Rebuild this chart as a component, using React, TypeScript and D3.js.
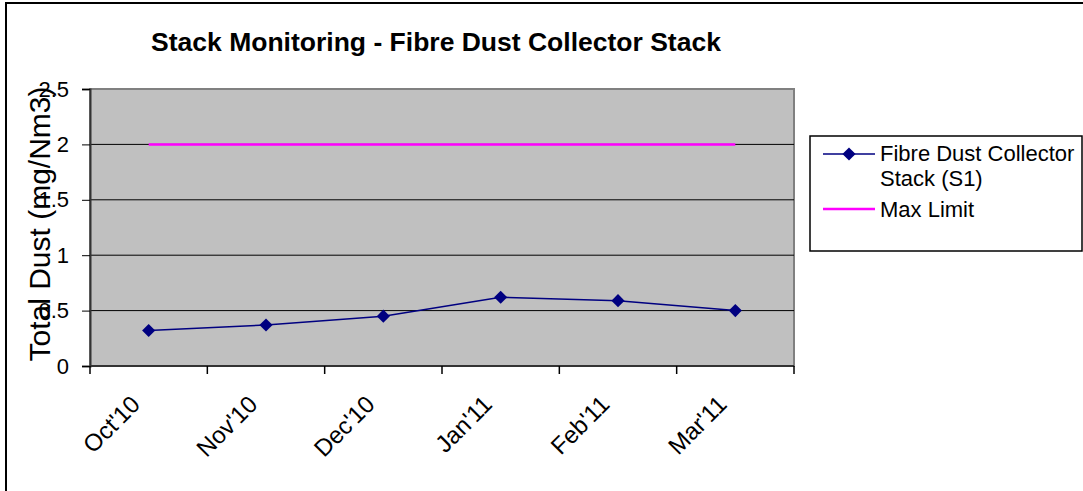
import React, { useEffect, useRef } from "react";
import * as d3 from "d3";

const months = ["Oct'10", "Nov'10", "Dec'10", "Jan'11", "Feb'11", "Mar'11"];
const dustValues = [0.32, 0.37, 0.45, 0.62, 0.59, 0.5];
const maxLimit = [2, 2, 2, 2, 2, 2];
const yTicks = [0, 0.5, 1, 1.5, 2, 2.5];

const W = 1083;
const H = 491;
const FONT = "Arial, 'Liberation Sans', sans-serif";

export default function App() {
  const ref = useRef<SVGSVGElement>(null);

  useEffect(() => {
    const svg = d3.select(ref.current);
    svg.selectAll("*").remove();

    const margin = { top: 89, right: 289, bottom: 125, left: 90 };
    const x = d3.scaleBand().domain(months).range([margin.left, W - margin.right]);
    const y = d3.scaleLinear().domain([0, 2.5]).range([H - margin.bottom, margin.top]);
    const cx = (m: string) => (x(m) as number) + x.bandwidth() / 2;

    // outer frame
    svg.append("rect")
      .attr("x", 6).attr("y", 3)
      .attr("width", W + 10).attr("height", H + 10)
      .attr("fill", "white").attr("stroke", "#000").attr("stroke-width", 2);

    // title
    svg.append("text")
      .attr("x", 436).attr("y", 51)
      .attr("text-anchor", "middle")
      .attr("font-family", FONT).attr("font-weight", "bold").attr("font-size", 26.5)
      .text("Stack Monitoring - Fibre Dust Collector Stack");

    // plot area
    svg.append("rect")
      .attr("x", margin.left).attr("y", margin.top)
      .attr("width", W - margin.right - margin.left)
      .attr("height", H - margin.bottom - margin.top)
      .attr("fill", "#C0C0C0").attr("stroke", "#808080").attr("stroke-width", 2);

    // gridlines
    svg.append("g").selectAll("line")
      .data(yTicks.filter(d => d > 0 && d < 2.5))
      .enter().append("line")
      .attr("x1", margin.left).attr("x2", W - margin.right)
      .attr("y1", d => y(d)).attr("y2", d => y(d))
      .attr("stroke", "#000").attr("stroke-width", 1);

    // y axis
    const yAxis = svg.append("g")
      .attr("transform", `translate(${margin.left},0)`)
      .call(d3.axisLeft(y).tickValues(yTicks).tickSize(8).tickPadding(13).tickFormat(d => String(d)));
    yAxis.select(".domain").attr("stroke", "#333").attr("stroke-width", 2);
    yAxis.selectAll(".tick line").attr("stroke", "#000");
    yAxis.selectAll("text").attr("font-family", FONT).attr("font-size", 22).attr("fill", "#000");

    // x axis
    const xAxis = svg.append("g")
      .attr("transform", `translate(0,${H - margin.bottom})`);
    xAxis.append("line")
      .attr("x1", margin.left).attr("x2", W - margin.right)
      .attr("stroke", "#333").attr("stroke-width", 2);
    const bounds = months.map(m => x(m) as number).concat([W - margin.right]);
    xAxis.selectAll(".tk").data(bounds).enter().append("line")
      .attr("x1", d => d).attr("x2", d => d)
      .attr("y1", 0).attr("y2", 8)
      .attr("stroke", "#000").attr("stroke-width", 1.5);
    xAxis.selectAll(".lbl").data(months).enter().append("text")
      .attr("transform", d => `translate(${cx(d) - 19},${28}) rotate(-45)`)
      .attr("text-anchor", "end")
      .attr("dy", "0.7em")
      .attr("font-family", FONT).attr("font-size", 24)
      .text(d => d);

    // y title
    svg.append("text")
      .attr("transform", `translate(50,${224}) rotate(-90)`)
      .attr("text-anchor", "middle")
      .attr("font-family", FONT).attr("font-size", 30)
      .text("Total Dust (mg/Nm3)");

    // max limit line
    const line = d3.line<number>()
      .x((_, i) => cx(months[i]))
      .y(d => y(d));
    svg.append("path").datum(maxLimit)
      .attr("d", line).attr("fill", "none")
      .attr("stroke", "#FF00FF").attr("stroke-width", 2.5);

    // dust series
    svg.append("path").datum(dustValues)
      .attr("d", line).attr("fill", "none")
      .attr("stroke", "#000080").attr("stroke-width", 1.5);
    const diamond = d3.symbol().type(d3.symbolDiamond2).size(110);
    svg.selectAll(".pt").data(dustValues).enter().append("path")
      .attr("d", diamond)
      .attr("transform", (d, i) => `translate(${cx(months[i])},${y(d)})`)
      .attr("fill", "#000080");

    // legend
    const lg = svg.append("g");
    lg.append("rect")
      .attr("x", 810).attr("y", 136).attr("width", 272).attr("height", 115)
      .attr("fill", "white").attr("stroke", "#000").attr("stroke-width", 1.5);
    lg.append("line").attr("x1", 823).attr("x2", 875).attr("y1", 154).attr("y2", 154)
      .attr("stroke", "#000080").attr("stroke-width", 1.5);
    lg.append("path").attr("d", diamond).attr("transform", "translate(849,154)").attr("fill", "#000080");
    lg.append("line").attr("x1", 823).attr("x2", 875).attr("y1", 209).attr("y2", 209)
      .attr("stroke", "#FF00FF").attr("stroke-width", 2.5);
    const legendLines = [
      { t: "Fibre Dust Collector", y: 161 },
      { t: "Stack (S1)", y: 186 },
      { t: "Max Limit", y: 217 },
    ];
    lg.selectAll(".lt").data(legendLines).enter().append("text")
      .attr("x", 880).attr("y", d => d.y)
      .attr("font-family", FONT).attr("font-size", 22)
      .text(d => d.t);
  }, []);

  return (
    <svg ref={ref} width={W} height={H}
      style={{ position: "absolute", left: 0, top: 0, background: "white" }} />
  );
}
